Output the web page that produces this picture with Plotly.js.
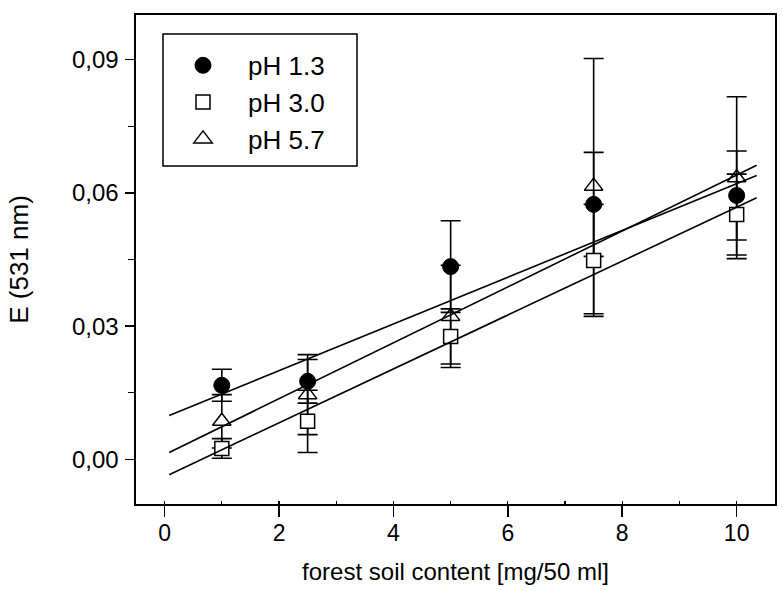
<!DOCTYPE html>
<html>
<head>
<meta charset="utf-8">
<script src="https://cdn.plot.ly/plotly-3.0.1.min.js"></script>
<style>html,body{margin:0;padding:0;background:#fff;}#chart{width:783px;height:591px;}</style>
</head>
<body>
<div id="chart"></div>
<script>
// Data
const xVals = [1, 2.5, 5, 7.5, 10];
const ph13 = [0.0167, 0.0176, 0.0434, 0.0574, 0.0594];
const ph13Err = [0.0036, 0.0049, 0.0103, 0.0117, 0.0100];
const ph30 = [0.0025, 0.0086, 0.0277, 0.0448, 0.0551];
const ph30Err = [0.0022, 0.0070, 0.0062, 0.0126, 0.0091];
const ph57 = [0.0086, 0.0146, 0.0322, 0.0615, 0.0634];
const ph57Err = [0.0060, 0.0090, 0.0115, 0.0287, 0.0182];
// Fitted regression lines (end points)
const fitX = [0.08, 10.35];
const fit13 = [0.0099, 0.0639];
const fit30 = [-0.0034, 0.0589];
const fit57 = [0.0016, 0.0662];
const seriesNames = ['pH 1.3', 'pH 3.0', 'pH 5.7'];

const FONT = 'Liberation Sans, Arial, sans-serif';
const errStyle = (arr) => ({type: 'data', array: arr, visible: true, color: 'black', thickness: 1.6, width: 10});

const traces = [
  {x: xVals, y: ph57, name: seriesNames[2], type: 'scatter', mode: 'markers', legendgroup: 'c', legendrank: 3,
   marker: {symbol: 'triangle-up', size: 16, color: 'white', line: {color: 'black', width: 1.5}},
   error_y: errStyle(ph57Err)},
  {x: xVals, y: ph13, name: seriesNames[0], type: 'scatter', mode: 'markers', legendgroup: 'a', legendrank: 1,
   marker: {symbol: 'circle', size: 16, color: 'black', line: {color: 'black', width: 1}},
   error_y: errStyle(ph13Err)},
  {x: xVals, y: ph30, name: seriesNames[1], type: 'scatter', mode: 'markers', legendgroup: 'b', legendrank: 2,
   marker: {symbol: 'square', size: 14, color: 'white', line: {color: 'black', width: 1.5}},
   error_y: errStyle(ph30Err)},
  {x: fitX, y: fit13, type: 'scatter', mode: 'lines', showlegend: false, line: {color: 'black', width: 1.6}, hoverinfo: 'skip'},
  {x: fitX, y: fit30, type: 'scatter', mode: 'lines', showlegend: false, line: {color: 'black', width: 1.6}, hoverinfo: 'skip'},
  {x: fitX, y: fit57, type: 'scatter', mode: 'lines', showlegend: false, line: {color: 'black', width: 1.6}, hoverinfo: 'skip'}
];

const PL = 136, PR = 775, PT = 15, PB = 504;
const pw = PR - PL, ph = PB - PT;
// legend frame in pixels -> paper coords
const lgBox = {x0: (163 - PL) / pw, x1: (357 - PL) / pw, y0: (PB - 166) / ph, y1: (PB - 34) / ph};

const layout = {
  width: 783, height: 591,
  margin: {l: PL, r: 783 - PR, t: PT, b: 591 - PB},
  paper_bgcolor: 'white', plot_bgcolor: 'white',
  separators: ',.',
  font: {family: FONT, color: 'black', size: 23},
  showlegend: true,
  legend: {
    x: (158 - PL) / pw, y: 0.945, xanchor: 'left', yanchor: 'top',
    bgcolor: 'rgba(0,0,0,0)', borderwidth: 0,
    font: {family: FONT, size: 26, color: 'black'},
    itemwidth: 80, tracegroupgap: 7, traceorder: 'normal'
  },
  shapes: [
    {type: 'rect', xref: 'paper', yref: 'paper', x0: lgBox.x0, x1: lgBox.x1, y0: lgBox.y0, y1: lgBox.y1,
     line: {color: 'black', width: 1.5}, fillcolor: 'rgba(0,0,0,0)', layer: 'above'}
  ],
  xaxis: {
    range: [-0.5, 10.67], showgrid: false, zeroline: false,
    showline: true, linecolor: 'black', linewidth: 1.6, mirror: true,
    tick0: 0, dtick: 2, ticks: 'outside', ticklen: 11, tickwidth: 1.6, tickcolor: 'black',
    ticklabelstandoff: -3,
    tickfont: {family: FONT, size: 23},
    minor: {dtick: 1, ticks: 'inside', ticklen: 3, tickwidth: 1.2, tickcolor: 'black'},
    title: {text: 'forest soil content [mg/50 ml]', font: {family: FONT, size: 24}, standoff: 18}
  },
  yaxis: {
    range: [-0.01, 0.10], showgrid: false, zeroline: false,
    showline: true, linecolor: 'black', linewidth: 1.6, mirror: true,
    tick0: 0, dtick: 0.03, tickformat: '.2f', ticks: 'outside', ticklen: 9, tickwidth: 1.6, tickcolor: 'black',
    ticklabelstandoff: 2,
    tickfont: {family: FONT, size: 24},
    minor: {dtick: 0.015, ticks: 'outside', ticklen: 6, tickwidth: 1.2, tickcolor: 'black'},
    title: {text: 'E (531 nm)', font: {family: FONT, size: 26}, standoff: 36}
  }
};

Plotly.newPlot('chart', traces, layout, {displayModeBar: false, staticPlot: true});
</script>
</body>
</html>
